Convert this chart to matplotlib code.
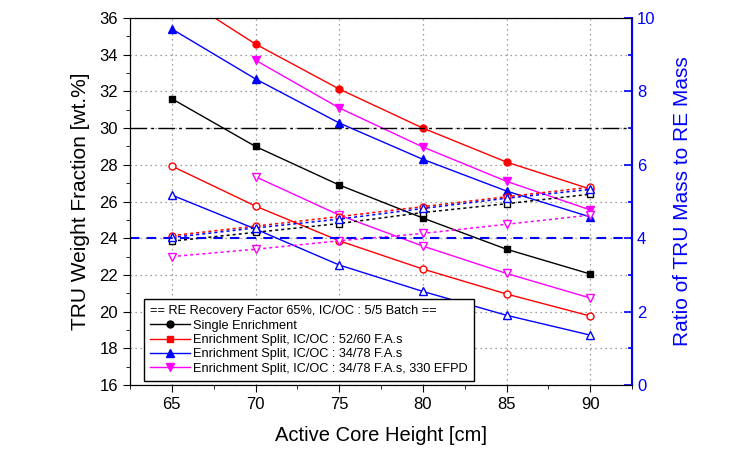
import numpy as np
import matplotlib
matplotlib.use("Agg")
import matplotlib.pyplot as plt
from matplotlib.lines import Line2D
from matplotlib.ticker import MultipleLocator

plt.rcParams['font.family'] = ['Liberation Sans', 'DejaVu Sans']

# === datos ===
height = [65, 70, 75, 80, 85, 90]
nan = np.nan

# fraccion TRU (eje izquierdo), marcadores llenos
single_fill = [31.6, 29.0, 26.9, 25.1, 23.4, 22.05]
split52_fill = [37.5, 34.58, 32.13, 30.0, 28.15, 26.68]
split34_fill = [35.4, 32.68, 30.28, 28.3, 26.57, 25.16]
efpd_fill = [nan, 33.7, 31.1, 28.97, 27.1, 25.54]

# fraccion TRU (eje izquierdo), marcadores huecos
split52_open = [27.93, 25.75, 23.86, 22.32, 20.96, 19.76]
split34_open = [26.35, 24.5, 22.54, 21.1, 19.8, 18.72]
efpd_open = [nan, 27.35, 25.26, 23.57, 22.08, 20.74]

# razon TRU/RE (eje derecho), lineas punteadas
single_ratio = [3.92, 4.16, 4.40, 4.70, 4.94, 5.20]
split52_ratio = [4.07, 4.33, 4.59, 4.86, 5.13, 5.39]
split34_ratio = [4.02, 4.28, 4.52, 4.81, 5.09, 5.33]
efpd_ratio = [3.50, 3.70, 3.93, 4.13, 4.38, 4.63]

labels = ["Single Enrichment",
          "Enrichment Split, IC/OC : 52/60 F.A.s",
          "Enrichment Split, IC/OC : 34/78 F.A.s",
          "Enrichment Split, IC/OC : 34/78 F.A.s, 330 EFPD"]
legend_title = "== RE Recovery Factor 65%, IC/OC : 5/5 Batch =="

black, red, blue, mag = "black", "#FF0000", "#0000FF", "#FF00FF"

fig = plt.figure(figsize=(7.38, 4.55), dpi=100)
ax = fig.add_axes([0.1762, 0.1538, 0.6802, 0.8066])
ax2 = ax.twinx()

ms = 5
# lineas solidas, marcadores llenos
ax.plot(height, single_fill, '-', color=black, marker='s', ms=ms, lw=1)
ax.plot(height, split52_fill, '-', color=red, marker='o', ms=ms, lw=1)
ax.plot(height, split34_fill, '-', color=blue, marker='^', ms=ms + 1, lw=1)
ax.plot(height, efpd_fill, '-', color=mag, marker='v', ms=ms + 1, lw=1)

# lineas solidas, marcadores huecos
ax.plot(height, split52_open, '-', color=red, marker='o', ms=ms, lw=1, mfc='white')
ax.plot(height, split34_open, '-', color=blue, marker='^', ms=ms + 1, lw=1, mfc='white')
ax.plot(height, efpd_open, '-', color=mag, marker='v', ms=ms + 1, lw=1, mfc='white')

# razon en eje derecho
ax2.plot(height, single_ratio, color=black, ls=(0, (2, 2)), marker='s', ms=ms, lw=1.1, mfc='white')
ax2.plot(height, split52_ratio, color=red, ls=(0, (2, 2)), marker='o', ms=ms, lw=1.1, mfc='white')
ax2.plot(height, split34_ratio, color=blue, ls=(0, (2, 2)), marker='^', ms=ms + 1, lw=1.1, mfc='white')
ax2.plot(height, efpd_ratio, color=mag, ls=(0, (2, 2)), marker='v', ms=ms + 1, lw=1.1, mfc='white')

# lineas de referencia
ax.axhline(30, color=black, ls=(0, (12, 3, 2, 3)), lw=1)
ax2.axhline(4, color=blue, ls=(0, (4.5, 3.5)), lw=1.5)

ax.set_xlim(62.5, 92.5)
ax.set_ylim(16, 36)
ax2.set_ylim(0, 10)
ax.xaxis.set_major_locator(MultipleLocator(5))
ax.xaxis.set_minor_locator(MultipleLocator(2.5))
ax.yaxis.set_major_locator(MultipleLocator(2))
ax.yaxis.set_minor_locator(MultipleLocator(1))
ax2.yaxis.set_major_locator(MultipleLocator(2))
ax2.yaxis.set_minor_locator(MultipleLocator(1))

ax.grid(True, which='major', color='#808080', ls=(0, (1, 3)), lw=0.9)

ax.tick_params(axis='both', which='major', labelsize=12, length=5, direction='out')
ax.tick_params(axis='both', which='minor', length=3, direction='out')
ax.tick_params(axis='x', which='both', top=False)
ax2.tick_params(axis='y', which='major', labelsize=12, length=6, direction='in',
                colors=blue, width=1.2)
ax2.tick_params(axis='y', which='minor', length=3, direction='in', colors=blue, width=1.2)
ax2.spines['right'].set_color(blue)
ax2.spines['right'].set_linewidth(1.5)

ax.set_xlabel("Active Core Height [cm]", fontsize=14.5, labelpad=10)
ax.set_ylabel("TRU Weight Fraction [wt.%]", fontsize=15, labelpad=7)
ax2.set_ylabel("Ratio of TRU Mass to RE Mass", fontsize=15, color=blue, labelpad=13)

# leyenda con marcadores propios
handles = [Line2D([], [], color=black, marker='o', ms=5, lw=1),
           Line2D([], [], color=red, marker='s', ms=4.5, lw=1),
           Line2D([], [], color=blue, marker='^', ms=5.5, lw=1),
           Line2D([], [], color=mag, marker='v', ms=5.5, lw=1)]

ax2.set_zorder(ax.get_zorder() + 1)
leg = ax2.legend(handles, labels, title=legend_title, loc='lower left',
                 bbox_to_anchor=(0.028, 0.011), borderaxespad=0, fancybox=False,
                 edgecolor='black', fontsize=9.2, title_fontsize=9.2,
                 handlelength=3.1, handletextpad=0.25, labelspacing=0.18,
                 borderpad=0.5, alignment='left')
leg.get_frame().set_linewidth(1)
leg.get_frame().set_alpha(1)

fig.savefig("out.png", dpi=100)
